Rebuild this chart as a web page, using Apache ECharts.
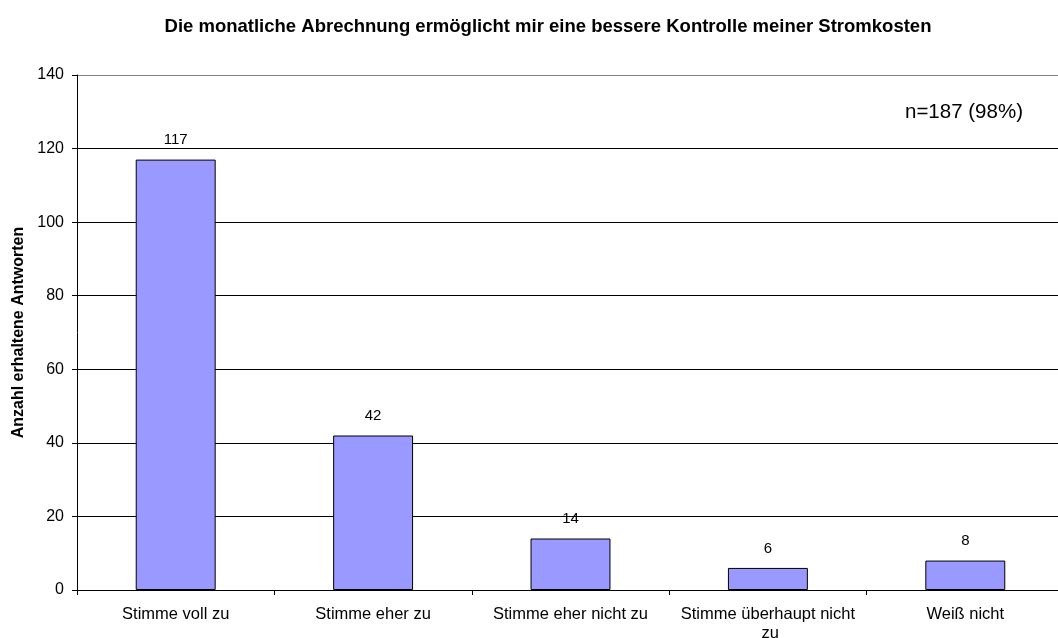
<!DOCTYPE html>
<html>
<head>
<meta charset="utf-8">
<script src="https://cdn.jsdelivr.net/npm/echarts@6/dist/echarts.min.js"></script>
<style>
  html, body { margin: 0; padding: 0; background: #fff; }
  #chart { width: 1058px; height: 638px; }
</style>
</head>
<body>
<div id="chart"></div>
<script>
// Survey answers: monthly billing and control of electricity costs
const categories = ['Stimme voll zu', 'Stimme eher zu', 'Stimme eher nicht zu', 'Stimme überhaupt nicht zu', 'Weiß nicht'];
const counts = [117, 42, 14, 6, 8];
const titleText = 'Die monatliche Abrechnung ermöglicht mir eine bessere Kontrolle meiner Stromkosten';
const yAxisTitle = 'Anzahl erhaltene Antworten';
const sampleNote = 'n=187 (98%)';

const font = 'Arial, "Liberation Sans", sans-serif';
const chart = echarts.init(document.getElementById('chart'));

chart.setOption({
  animation: false,
  backgroundColor: '#fff',
  title: {
    text: titleText,
    left: 543,
    top: 12,
    textAlign: 'center',
    textStyle: { fontFamily: font, fontSize: 18.5, fontWeight: 'bold', color: '#000' }
  },
  graphic: [{
    type: 'text',
    x: 905,
    y: 112,
    style: { text: sampleNote, font: '20.5px ' + font, fill: '#000', textVerticalAlign: 'middle' }
  }],
  grid: {
    left: 77, top: 75, width: 987, height: 515,
    containLabel: false,
    outerBoundsMode: 'none'
  },
  xAxis: {
    type: 'category',
    data: categories,
    axisLine: { lineStyle: { color: '#000', width: 1 } },
    axisTick: { show: true, length: 5, lineStyle: { color: '#000' } },
    axisLabel: {
      interval: 0,
      color: '#000',
      fontFamily: font,
      fontSize: 16.5,
      margin: 15,
      width: 185,
      overflow: 'break',
      lineHeight: 19
    }
  },
  yAxis: {
    type: 'value',
    min: 0,
    max: 140,
    interval: 20,
    name: yAxisTitle,
    nameLocation: 'middle',
    nameGap: 49,
    nameTextStyle: { fontFamily: font, fontSize: 16, fontWeight: 'bold', color: '#000' },
    axisLine: { show: true, lineStyle: { color: '#000', width: 1 } },
    axisTick: { show: true, length: 5, lineStyle: { color: '#000' } },
    axisLabel: { color: '#000', fontFamily: font, fontSize: 16, margin: 13 },
    splitLine: {
      show: true,
      lineStyle: { color: ['#000', '#000', '#000', '#000', '#000', '#000', '#000', '#808080'], width: 1 }
    }
  },
  series: [{
    type: 'bar',
    data: counts,
    barWidth: '40.5%',
    itemStyle: { color: '#9999FF', borderColor: '#000', borderWidth: 1 },
    label: {
      show: true,
      position: 'top',
      distance: 12,
      color: '#000',
      fontFamily: font,
      fontSize: 15
    }
  }]
});
</script>
</body>
</html>
